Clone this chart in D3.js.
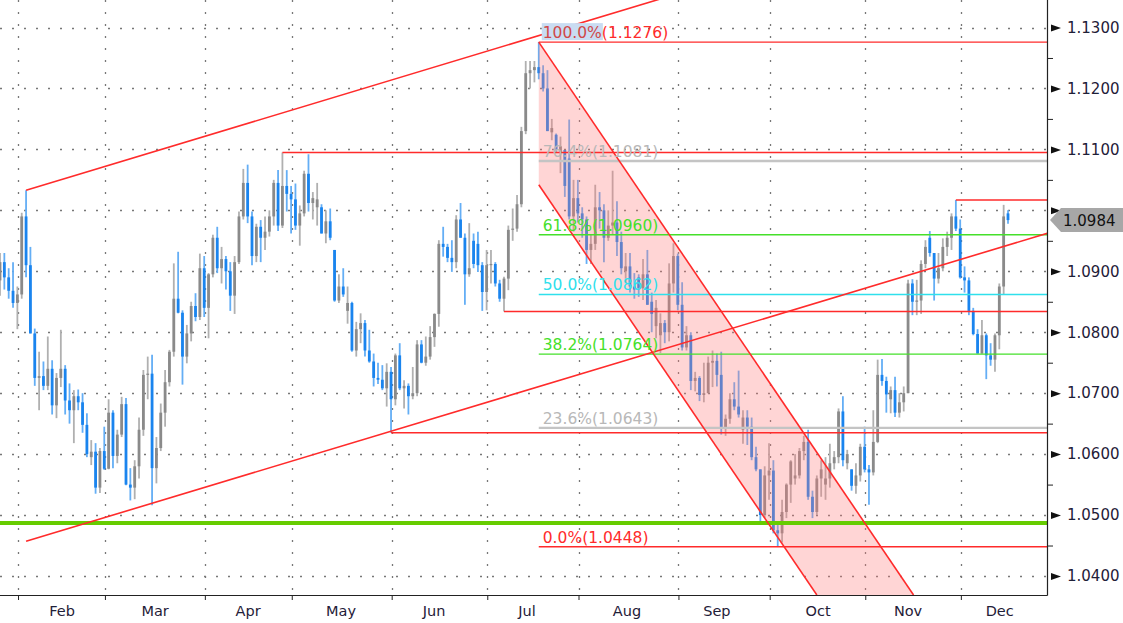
<!DOCTYPE html>
<html><head><meta charset="utf-8">
<script src="https://cdn.jsdelivr.net/npm/d3@7"></script>
<style>html,body{margin:0;padding:0;background:#fff;overflow:hidden}</style>
</head><body><svg id="c" width="1123" height="623"></svg>
<script>
// ---------- DATA ----------
const monthLabels = ["Feb","Mar","Apr","May","Jun","Jul","Aug","Sep","Oct","Nov","Dec"];
const monthStartIdx = [5,25,48,68,91,113,134,157,178,200,222];
const monthLabelIdx = [14.3,35.7,57.1,78.5,99.9,121.3,144.3,165,188.3,209,230.1];
const priceTicks = [1.04,1.05,1.06,1.07,1.08,1.09,1.10,1.11,1.12,1.13];
const minorTicks = [1.045,1.055,1.065,1.075,1.085,1.095,1.105,1.115,1.125];
// daily bars [open, high, low, close], Jan 25 .. Dec 15
const ohlc = [
[1.0885,1.0930,1.0860,1.0915],[1.0915,1.0930,1.0870,1.0890],[1.0890,1.0905,1.0855,1.0868],[1.0868,1.0915,1.0840,1.0848],
[1.0848,1.0875,1.0805,1.0862],[1.0862,1.0996,1.0855,1.0990],[1.0990,1.1033,1.0890,1.0910],[1.0910,1.0940,1.0798,1.0798],
[1.0798,1.0806,1.0712,1.0725],[1.0725,1.0768,1.0672,1.0728],[1.0728,1.0752,1.0705,1.0712],[1.0712,1.0793,1.0705,1.0740],
[1.0740,1.0754,1.0665,1.0680],[1.0680,1.0733,1.0659,1.0725],[1.0725,1.0804,1.0710,1.0740],[1.0740,1.0746,1.0665,1.0688],
[1.0688,1.0716,1.0650,1.0672],[1.0672,1.0705,1.0618,1.0695],[1.0695,1.0706,1.0672,1.0685],[1.0685,1.0700,1.0635,1.0648],
[1.0648,1.0667,1.0595,1.0600],[1.0595,1.0623,1.0582,1.0604],[1.0604,1.0618,1.0535,1.0545],[1.0545,1.0610,1.0536,1.0605],
[1.0605,1.0645,1.0574,1.0576],[1.0576,1.0690,1.0575,1.0668],[1.0668,1.0672,1.0577,1.0597],[1.0597,1.0640,1.0585,1.0632],
[1.0632,1.0694,1.0628,1.0682],[1.0682,1.0692,1.0549,1.0550],[1.0550,1.0577,1.0524,1.0545],[1.0545,1.0590,1.0526,1.0580],
[1.0580,1.0660,1.0560,1.0640],[1.0640,1.0738,1.0630,1.0730],[1.0730,1.0760,1.0690,1.0732],[1.0732,1.0763,1.0516,1.0577],
[1.0577,1.0628,1.0552,1.0610],[1.0610,1.0683,1.0605,1.0668],[1.0668,1.0738,1.0645,1.0718],[1.0718,1.0771,1.0711,1.0768],
[1.0768,1.0913,1.0760,1.0855],[1.0855,1.0932,1.0831,1.0832],[1.0832,1.0836,1.0714,1.0760],[1.0760,1.0812,1.0749,1.0798],
[1.0798,1.0850,1.0785,1.0843],[1.0843,1.0864,1.0818,1.0825],[1.0825,1.0929,1.0820,1.0905],[1.0905,1.0925,1.0825,1.0840],
[1.0840,1.0897,1.0790,1.0895],[1.0895,1.0960,1.0890,1.0955],[1.0955,1.0973,1.0897,1.0905],[1.0905,1.0940,1.0880,1.0920],
[1.0920,1.0925,1.0870,1.0900],[1.0900,1.0915,1.0835,1.0860],[1.0860,1.0925,1.0830,1.0915],[1.0915,1.0998,1.0912,1.0990],
[1.0990,1.1068,1.0985,1.1045],[1.1045,1.1075,1.0979,1.0990],[1.0990,1.0998,1.0910,1.0925],[1.0925,1.0978,1.0915,1.0973],
[1.0973,1.0984,1.0915,1.0955],[1.0955,1.0990,1.0935,1.0965],[1.0965,1.1000,1.0957,1.0990],[1.0990,1.1050,1.0975,1.1045],
[1.1045,1.1066,1.0966,1.0975],[1.0975,1.1095,1.0971,1.1040],[1.1040,1.1066,1.0998,1.1027],[1.1027,1.1040,1.0962,1.1018],
[1.1018,1.1044,1.0968,1.0975],[1.0975,1.1008,1.0942,1.0995],[1.0995,1.1065,1.0990,1.1060],[1.1060,1.1092,1.0998,1.1012],
[1.1012,1.1030,1.0985,1.1020],[1.1005,1.1045,1.0975,1.1018],[1.1005,1.1010,1.0962,1.0962],[1.0962,1.1000,1.0946,1.0982],
[1.0982,1.1003,1.0951,1.0955],[1.0935,1.0935,1.0850,1.0852],[1.0852,1.0895,1.0848,1.0875],[1.0875,1.0905,1.0858,1.0862],
[1.0835,1.0875,1.0814,1.0848],[1.0848,1.0850,1.0768,1.0770],[1.0770,1.0817,1.0760,1.0805],[1.0805,1.0831,1.0782,1.0815],
[1.0815,1.0820,1.0760,1.0770],[1.0770,1.0804,1.0750,1.0752],[1.0752,1.0765,1.0711,1.0725],[1.0725,1.0750,1.0715,1.0722],
[1.0722,1.0746,1.0705,1.0708],[1.0708,1.0749,1.0678,1.0735],[1.0735,1.0743,1.0635,1.0690],[1.0690,1.0765,1.0680,1.0762],
[1.0762,1.0782,1.0705,1.0708],[1.0708,1.0721,1.0675,1.0712],[1.0712,1.0716,1.0665,1.0695],[1.0695,1.0743,1.0690,1.0700],
[1.0700,1.0787,1.0695,1.0780],[1.0780,1.0787,1.0749,1.0750],[1.0750,1.0793,1.0745,1.0760],[1.0760,1.0810,1.0755,1.0792],
[1.0792,1.0831,1.0776,1.0830],[1.0830,1.0951,1.0809,1.0945],[1.0945,1.0973,1.0924,1.0940],[1.0940,1.0945,1.0915,1.0922],
[1.0922,1.0951,1.0899,1.0915],[1.0915,1.0992,1.0905,1.0985],[1.0985,1.1012,1.0955,1.0955],[1.0955,1.0962,1.0845,1.0895],
[1.0895,1.0979,1.0891,1.0905],[1.0950,1.0962,1.0905,1.0912],[1.0945,1.0965,1.0899,1.0910],[1.0910,1.0915,1.0835,1.0866],
[1.0866,1.0935,1.0836,1.0910],[1.0910,1.0935,1.0880,1.0912],[1.0912,1.0915,1.0875,1.0880],[1.0880,1.0886,1.0850,1.0855],
[1.0855,1.0891,1.0834,1.0888],[1.0888,1.0975,1.0869,1.0968],[1.0968,1.1003,1.0950,1.0970],[1.0970,1.1025,1.0965,1.1010],
[1.1010,1.1137,1.1005,1.1130],[1.1130,1.1245,1.1125,1.1225],[1.1225,1.1245,1.1200,1.1230],[1.1230,1.1245,1.1210,1.1235],
[1.1235,1.1276,1.1215,1.1225],[1.1225,1.1238,1.1195,1.1200],[1.1200,1.1230,1.1130,1.1130],[1.1128,1.1150,1.1115,1.1135],
[1.1124,1.1126,1.1096,1.1100],[1.1095,1.1121,1.1061,1.1105],[1.1099,1.1099,1.1022,1.1040],[1.1085,1.1149,1.0985,1.0990],
[1.0990,1.1050,1.0965,1.1020],[1.1020,1.1050,1.0980,1.0995],[1.0995,1.1005,1.0955,1.0985],[1.0985,1.0990,1.0912,1.0935],
[1.0935,1.0960,1.0912,1.0945],[1.0945,1.1042,1.0935,1.1005],[1.1005,1.1030,1.0970,1.1000],[1.1000,1.1010,1.0915,1.0955],
[1.0955,1.1000,1.0950,1.0975],[1.0975,1.1065,1.0960,1.0980],[1.0980,1.1015,1.0925,1.0948],[1.0948,1.0965,1.0895,1.0905],
[1.0900,1.0930,1.0880,1.0908],[1.0908,1.0930,1.0865,1.0875],[1.0875,1.0897,1.0855,1.0870],[1.0890,1.0895,1.0858,1.0872],
[1.0872,1.0920,1.0853,1.0895],[1.0895,1.0935,1.0845,1.0845],[1.0850,1.0865,1.0800,1.0830],[1.0810,1.0853,1.0790,1.0840],
[1.0795,1.0831,1.0766,1.0815],[1.0815,1.0820,1.0782,1.0800],[1.0800,1.0913,1.0785,1.0880],[1.0880,1.0946,1.0865,1.0925],
[1.0925,1.0929,1.0836,1.0845],[1.0845,1.0882,1.0770,1.0775],[1.0775,1.0810,1.0770,1.0795],[1.0795,1.0800,1.0705,1.0720],
[1.0720,1.0735,1.0703,1.0725],[1.0725,1.0728,1.0687,1.0697],[1.0697,1.0750,1.0685,1.0700],[1.0700,1.0760,1.0700,1.0750],
[1.0750,1.0770,1.0710,1.0753],[1.0753,1.0765,1.0711,1.0730],[1.0730,1.0768,1.0632,1.0642],[1.0642,1.0665,1.0630,1.0658],
[1.0658,1.0700,1.0650,1.0690],[1.0690,1.0718,1.0672,1.0678],[1.0678,1.0737,1.0660,1.0665],[1.0640,1.0672,1.0617,1.0660],
[1.0660,1.0672,1.0615,1.0645],[1.0645,1.0660,1.0590,1.0595],[1.0595,1.0612,1.0572,1.0575],[1.0575,1.0575,1.0488,1.0500],
[1.0500,1.0580,1.0495,1.0565],[1.0565,1.0618,1.0525,1.0573],[1.0573,1.0590,1.0470,1.0475],[1.0475,1.0490,1.0448,1.0470],
[1.0470,1.0525,1.0455,1.0505],[1.0505,1.0552,1.0495,1.0550],[1.0550,1.0590,1.0520,1.0588],[1.0560,1.0600,1.0550,1.0565],
[1.0565,1.0610,1.0560,1.0605],[1.0605,1.0630,1.0590,1.0620],[1.0620,1.0640,1.0525,1.0530],[1.0530,1.0540,1.0495,1.0505],
[1.0505,1.0565,1.0500,1.0560],[1.0560,1.0590,1.0530,1.0575],[1.0550,1.0595,1.0525,1.0560],[1.0560,1.0617,1.0545,1.0585],
[1.0585,1.0605,1.0575,1.0595],[1.0595,1.0675,1.0585,1.0670],[1.0670,1.0695,1.0580,1.0590],[1.0585,1.0607,1.0575,1.0600],
[1.0575,1.0575,1.0540,1.0548],[1.0548,1.0585,1.0535,1.0565],[1.0565,1.0617,1.0555,1.0612],[1.0612,1.0645,1.0570,1.0575],
[1.0575,1.0582,1.0517,1.0570],[1.0570,1.0672,1.0565,1.0620],[1.0620,1.0755,1.0618,1.0730],[1.0730,1.0756,1.0712,1.0720],
[1.0720,1.0727,1.0668,1.0698],[1.0690,1.0711,1.0667,1.0705],[1.0705,1.0727,1.0661,1.0668],[1.0668,1.0700,1.0660,1.0685],
[1.0685,1.0711,1.0670,1.0700],[1.0700,1.0886,1.0700,1.0880],[1.0880,1.0887,1.0828,1.0850],[1.0850,1.0886,1.0828,1.0852],
[1.0852,1.0918,1.0830,1.0912],[1.0912,1.0951,1.0905,1.0940],[1.0955,1.0966,1.0924,1.0930],[1.0930,1.0930,1.0852,1.0888],
[1.0888,1.0930,1.0880,1.0905],[1.0905,1.0954,1.0900,1.0940],[1.0940,1.0965,1.0925,1.0955],[1.0955,1.0995,1.0935,1.0990],
[1.0990,1.1017,1.0966,1.0970],[1.0970,1.0985,1.0888,1.0890],[1.0890,1.0908,1.0865,1.0885],[1.0885,1.0890,1.0828,1.0835],
[1.0835,1.0840,1.0795,1.0797],[1.0797,1.0805,1.0765,1.0765],[1.0765,1.0820,1.0765,1.0795],[1.0795,1.0798,1.0723,1.0762],
[1.0762,1.0782,1.0745,1.0755],[1.0755,1.0798,1.0735,1.0795],[1.0795,1.0880,1.0772,1.0875],[1.0875,1.1009,1.0862,1.0990],
[1.0995,1.1000,1.0978,1.0984]
];
const lastPrice = 1.0984;
// Fibonacci retracement (anchored at the July high bar)
const fibAnchorIdx = 124;
const fibLevels = [1.1276,1.1081,1.0960,1.0862,1.0764,1.0643,1.0448];
const fibPct = ["100.0%","76.4%","61.8%","50.0%","38.2%","23.6%","0.0%"];
// horizontal support / resistance levels and the bar they start from
const srLevels = [1.1095,1.1017,1.0834,1.0635];
const srStartIdx = [65,220,116,90];
const baseLevel = 1.0487;
// rising channel (start bar, price at start, slope per bar)
const riseStartIdx = 6;
const riseUpper = 1.1033, riseLower = 1.0457, riseSlope = 0.000215;
// falling channel from the July high
const fallStartIdx = 124;
const fallUpper = 1.1276, fallLower = 1.1042, fallSlope = -0.0010517;

// ---------- LAYOUT / STYLE ----------
const PR = 1047, PB = 595;
const C = {up:"#8a8a8a", upW:"#b0b0b0", dn:"#1a84ee", dnW:"#64aef5", grid:"#777",
  red:"#ff2b2b", green:"#45e02a", cyan:"#2fe0ec", gray:"#c4c4c4", thick:"#66cc00", axisText:"#1f2038"};
const fibColor = [C.red,"#b8b8b8",C.green,C.cyan,C.green,"#b8b8b8",C.red];
const fibLine = [C.red,C.gray,C.green,C.cyan,C.green,C.gray,C.red];
const fibWidth = [1.4,2.4,1.4,1.4,1.4,2.2,1.4];
const FONT = "'DejaVu Sans', Verdana, sans-serif";

const x = d3.scaleLinear().domain([0, ohlc.length-1]).range([0, 1008]);
const y = d3.scaleLinear().domain([1.04, 1.13]).range([576, 27.5]);
const iRight = x.invert(PR), pBottom = y.invert(PB);

const svg = d3.select("#c");
svg.append("rect").attr("width",1123).attr("height",623).attr("fill","#fff");
svg.append("defs").append("clipPath").attr("id","plot")
  .append("rect").attr("x",0).attr("y",0).attr("width",PR).attr("height",PB);
const g = svg.append("g").attr("clip-path","url(#plot)");

// grid
g.append("g").selectAll("line").data(priceTicks).join("line")
  .attr("x1",0).attr("x2",PR).attr("y1",d=>Math.round(y(d))+0.5).attr("y2",d=>Math.round(y(d))+0.5)
  .attr("stroke",C.grid).attr("stroke-width",1.3).attr("stroke-dasharray","2,10");
g.append("g").selectAll("line").data(monthStartIdx).join("line")
  .attr("x1",d=>Math.round(x(d-0.85))+0.5).attr("x2",d=>Math.round(x(d-0.85))+0.5).attr("y1",0).attr("y2",PB)
  .attr("stroke",C.grid).attr("stroke-width",1.3).attr("stroke-dasharray","2,10");

// candles
const bars = g.append("g").selectAll("g").data(ohlc).join("g");
bars.append("line")
  .attr("x1",(d,i)=>x(i)).attr("x2",(d,i)=>x(i))
  .attr("y1",d=>y(d[1])).attr("y2",d=>y(d[2]))
  .attr("stroke",d=>d[3]>=d[0]?C.upW:C.dnW).attr("stroke-width",1.8);
bars.append("rect")
  .attr("x",(d,i)=>x(i)-1.4).attr("width",2.8)
  .attr("y",d=>y(Math.max(d[0],d[3])))
  .attr("height",d=>Math.max(1.2,Math.abs(y(d[0])-y(d[3]))))
  .attr("fill",d=>d[3]>=d[0]?C.up:C.dn);

// falling channel fill
const iUpEnd = fallStartIdx + (pBottom - fallUpper)/fallSlope;
const iLoEnd = fallStartIdx + (pBottom - fallLower)/fallSlope;
const poly = [[fallStartIdx,fallUpper],[iUpEnd,pBottom],[iLoEnd,pBottom],[fallStartIdx,fallLower]];
g.append("path").attr("d", d3.line().x(d=>x(d[0])).y(d=>y(d[1]))(poly)+"Z")
  .attr("fill","#ff7b7b").attr("fill-opacity",0.32);

// base thick level
g.append("line").attr("x1",0).attr("x2",PR).attr("y1",y(baseLevel)).attr("y2",y(baseLevel))
  .attr("stroke",C.thick).attr("stroke-width",4);

// S/R lines
g.append("g").selectAll("line").data(srLevels).join("line")
  .attr("x1",(d,i)=>x(srStartIdx[i])).attr("x2",PR).attr("y1",d=>y(d)).attr("y2",d=>y(d))
  .attr("stroke",C.red).attr("stroke-width",1.5);

// fib lines
g.append("g").selectAll("line").data(fibLevels).join("line")
  .attr("x1",x(fibAnchorIdx)).attr("x2",PR).attr("y1",d=>y(d)).attr("y2",d=>y(d))
  .attr("stroke",(d,i)=>fibLine[i]).attr("stroke-width",(d,i)=>fibWidth[i]);

// channel lines
const ln = d3.line().x(d=>x(d[0])).y(d=>y(d[1]));
const seg = (i0,p0,s,i1)=>[[i0,p0],[i1,p0+s*(i1-i0)]];
[riseUpper,riseLower].forEach(p=>{
  g.append("path").attr("d",ln(seg(riseStartIdx,p,riseSlope,iRight+2)))
   .attr("fill","none").attr("stroke",C.red).attr("stroke-width",1.6);
});
g.append("path").attr("d",ln([[fallStartIdx,fallUpper],[iUpEnd,pBottom]])).attr("fill","none").attr("stroke",C.red).attr("stroke-width",1.6);
g.append("path").attr("d",ln([[fallStartIdx,fallLower],[iLoEnd,pBottom]])).attr("fill","none").attr("stroke",C.red).attr("stroke-width",1.6);

// fib labels
const fl = g.append("g").attr("font-family",FONT).attr("font-size","15.5px");
fibLevels.forEach((lv,i)=>{
  const t = fl.append("text").attr("x",x(fibAnchorIdx)+4).attr("y",y(lv)-4).attr("fill",fibColor[i]);
  const a = t.append("tspan").text(fibPct[i]);
  t.append("tspan").text("("+d3.format(".4f")(lv)+")");
  if(i===0){
    const w = t.node().getSubStringLength(0,fibPct[i].length);
    fl.insert("rect","text").attr("x",x(fibAnchorIdx)+3).attr("y",y(lv)-19).attr("width",w+2).attr("height",17)
      .attr("fill","#c9dcf2");
    a.attr("fill","#d04848");
  }
});

// axes frame
svg.append("line").attr("x1",PR+0.5).attr("x2",PR+0.5).attr("y1",0).attr("y2",PB+0.5).attr("stroke","#222").attr("stroke-width",1.2);
svg.append("line").attr("x1",0).attr("x2",PR+0.5).attr("y1",PB+0.5).attr("y2",PB+0.5).attr("stroke","#222").attr("stroke-width",1.2);

// right axis (the label hidden under the last-price tag is left out)
const hidden = d => Math.abs(y(d) - y(lastPrice)) < 14;
const ya = svg.append("g").attr("transform",`translate(${PR},0)`)
  .call(d3.axisRight(y).tickValues(priceTicks).tickFormat(d=>hidden(d)?"":d3.format(".4f")(d)).tickSize(0).tickPadding(20));
ya.select(".domain").remove();
ya.selectAll("text").attr("font-family",FONT).attr("font-size","15px").attr("fill",C.axisText);
ya.selectAll(".tick").append("path").attr("d","M1,0L4,0L4,-3.5L14,0L4,3.5L4,0Z").attr("fill","#111");
const ym = svg.append("g").attr("transform",`translate(${PR},0)`)
  .call(d3.axisRight(y).tickValues(minorTicks).tickFormat("").tickSize(6));
ym.select(".domain").remove();
ym.selectAll("line").attr("stroke","#222");

// bottom axis
const xa = svg.append("g").attr("transform",`translate(0,${PB})`)
  .call(d3.axisBottom(x).tickValues(monthStartIdx.map(d=>d-0.85)).tickFormat("").tickSize(5));
xa.select(".domain").remove();
xa.selectAll("line").attr("stroke","#222");
svg.append("g").selectAll("text").data(monthLabels).join("text")
  .attr("x",(d,i)=>x(monthLabelIdx[i])).attr("y",616)
  .attr("text-anchor","middle").attr("font-family",FONT).attr("font-size","14.5px").attr("fill",C.axisText)
  .text(d=>d);

// last price tag
const ty = y(lastPrice);
svg.append("path").attr("d",`M${PR+3},${ty} L${PR+14},${ty-12} L1123,${ty-12} L1123,${ty+12} L${PR+14},${ty+12} Z`)
  .attr("fill","#a7a7a7");
svg.append("text").attr("x",PR+16).attr("y",ty+5.5).attr("font-family",FONT).attr("font-size","15px")
  .attr("fill","#111").text(d3.format(".4f")(lastPrice));
</script></body></html>
